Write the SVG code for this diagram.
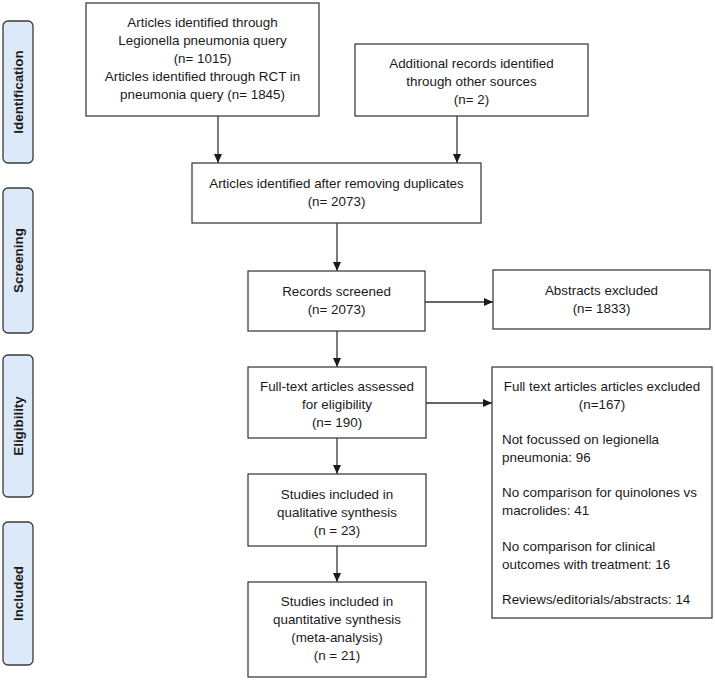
<svg xmlns="http://www.w3.org/2000/svg" width="715" height="681" viewBox="0 0 715 681">
<defs>
<style>
.box{fill:#fff;stroke:#404040;stroke-width:1.3}
.side{fill:#dce9f8;stroke:#3a3a3a;stroke-width:1.3}
text{font-family:"Liberation Sans",Arial,sans-serif;font-size:13.4px;fill:#1a1a1a}
.c{text-anchor:middle}
.sl{font-weight:bold;text-anchor:middle;font-size:13.4px}
.con{stroke:#333;stroke-width:1.3;fill:none;marker-end:url(#ah)}
</style>
<marker id="ah" markerWidth="10" markerHeight="8" refX="9" refY="4" orient="auto" markerUnits="userSpaceOnUse">
<path d="M0,0 L9,4 L0,8 Z" fill="#1a1a1a"/>
</marker>
</defs>
<rect width="715" height="681" fill="#fff"/>

<g id="phase-identification"><rect class="side" x="3" y="21" width="30" height="142" rx="5"/><text class="sl" transform="translate(23,92) rotate(-90)">Identification</text></g>
<g id="phase-screening"><rect class="side" x="3" y="188" width="30" height="145" rx="5"/><text class="sl" transform="translate(23,260.5) rotate(-90)">Screening</text></g>
<g id="phase-eligibility"><rect class="side" x="3" y="355" width="30" height="142" rx="5"/><text class="sl" transform="translate(23,426) rotate(-90)">Eligibility</text></g>
<g id="phase-included"><rect class="side" x="3" y="522" width="30" height="143" rx="5"/><text class="sl" transform="translate(23,593.5) rotate(-90)">Included</text></g>

<g id="connectors">
<line class="con" x1="218" y1="116" x2="218" y2="163"/>
<line class="con" x1="457" y1="116" x2="457" y2="163"/>
<line class="con" x1="337" y1="223" x2="337" y2="271"/>
<line class="con" x1="425" y1="302" x2="493" y2="302"/>
<line class="con" x1="337" y1="331" x2="337" y2="367"/>
<line class="con" x1="426" y1="403" x2="492" y2="403"/>
<line class="con" x1="337" y1="438" x2="337" y2="474"/>
<line class="con" x1="337" y1="546" x2="337" y2="582"/>
</g>

<g id="n-query"><rect class="box" x="86" y="3" width="233" height="113"/>
<text class="c" x="202.5" y="27">Articles identified through</text>
<text class="c" x="202.5" y="45">Legionella pneumonia query</text>
<text class="c" x="202.5" y="63">(n= 1015)</text>
<text class="c" x="202.5" y="81">Articles identified through RCT in</text>
<text class="c" x="202.5" y="99">pneumonia query (n= 1845)</text></g>

<g id="n-other"><rect class="box" x="355" y="44" width="233" height="72"/>
<text class="c" x="471.5" y="68">Additional records identified</text>
<text class="c" x="471.5" y="86">through other sources</text>
<text class="c" x="471.5" y="104">(n= 2)</text></g>

<g id="n-dedup"><rect class="box" x="192" y="163" width="289" height="60"/>
<text class="c" x="336.5" y="188">Articles identified after removing duplicates</text>
<text class="c" x="336.5" y="206">(n= 2073)</text></g>

<g id="n-screened"><rect class="box" x="248" y="271" width="177" height="60"/>
<text class="c" x="336.5" y="296">Records screened</text>
<text class="c" x="336.5" y="314">(n= 2073)</text></g>

<g id="n-abstracts"><rect class="box" x="493" y="270" width="217" height="59"/>
<text class="c" x="601.5" y="295">Abstracts excluded</text>
<text class="c" x="601.5" y="313">(n= 1833)</text></g>

<g id="n-fulltext"><rect class="box" x="248" y="367" width="178" height="71"/>
<text class="c" x="337" y="391">Full-text articles assessed</text>
<text class="c" x="337" y="409">for eligibility</text>
<text class="c" x="337" y="427">(n= 190)</text></g>

<g id="n-excluded"><rect class="box" x="492" y="367" width="220" height="251"/>
<text class="c" x="602" y="391">Full text articles articles excluded</text>
<text class="c" x="602" y="409">(n=167)</text>
<text x="502" y="444">Not focussed on legionella</text>
<text x="502" y="462">pneumonia: 96</text>
<text x="502" y="497">No comparison for quinolones vs</text>
<text x="502" y="515">macrolides: 41</text>
<text x="502" y="551">No comparison for clinical</text>
<text x="502" y="569">outcomes with treatment: 16</text>
<text x="502" y="604">Reviews/editorials/abstracts: 14</text></g>

<g id="n-qualitative"><rect class="box" x="248" y="474" width="178" height="72"/>
<text class="c" x="337" y="499">Studies included in</text>
<text class="c" x="337" y="517">qualitative synthesis</text>
<text class="c" x="337" y="535">(n = 23)</text></g>

<g id="n-quantitative"><rect class="box" x="248" y="582" width="178" height="95"/>
<text class="c" x="337" y="606">Studies included in</text>
<text class="c" x="337" y="624">quantitative synthesis</text>
<text class="c" x="337" y="642">(meta-analysis)</text>
<text class="c" x="337" y="660">(n = 21)</text></g>
</svg>
